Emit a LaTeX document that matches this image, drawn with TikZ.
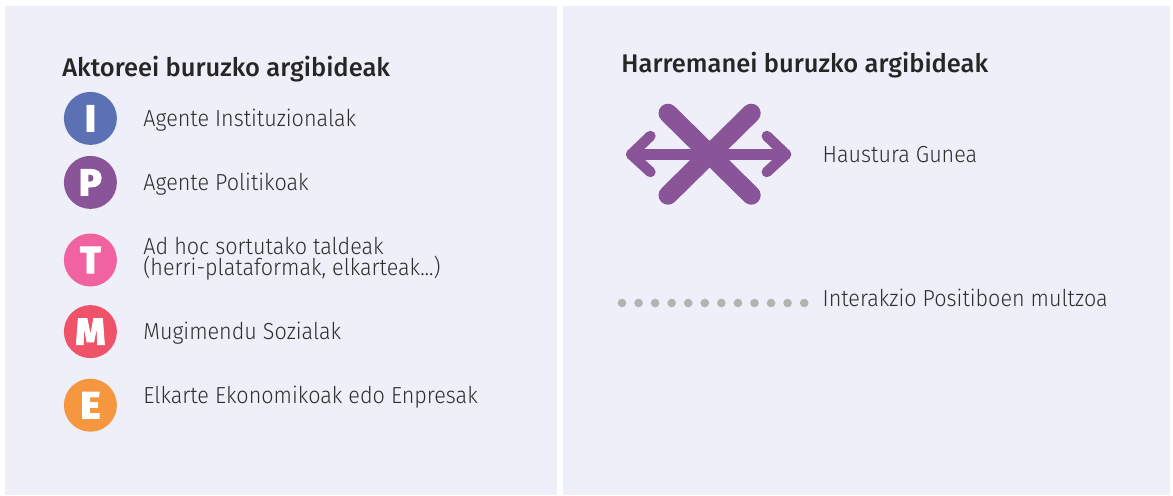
\documentclass[tikz,border=0pt]{standalone}
\usepackage{fontspec}
\setmainfont{Fira Sans Light}[BoldFont={Fira Sans Medium}]
\newfontfamily\bodyfont{Fira Sans Light}[FakeStretch=0.93]
\newfontfamily\heavyfont{Fira Sans ExtraBold}[FakeBold=2]
\usepackage{xcolor}
\definecolor{panelbg}{HTML}{EEEFF9}
\definecolor{inkgray}{HTML}{2E2E2E}
\definecolor{dotgray}{HTML}{B3B3B3}
\definecolor{agentblue}{HTML}{5C71B4}
\definecolor{agentpurple}{HTML}{8A5499}
\definecolor{agentpink}{HTML}{F063A0}
\definecolor{agentred}{HTML}{EF5369}
\definecolor{agentorange}{HTML}{F4973F}
\tikzset{
  actor/.style={circle, minimum size=1.325cm, inner sep=0pt, text=white,
    font=\heavyfont\fontsize{27}{27}\selectfont},
  legendtext/.style={anchor=west, inner sep=0pt, align=left, text=inkgray,
    font=\bodyfont\fontsize{16.5}{13.5}\selectfont},
  headtext/.style={anchor=west, inner sep=0pt, text=black!85,
    font=\bfseries\fontsize{18.15}{22}\selectfont},
  breakbar/.style={agentpurple, line width=19*0.711pt, line cap=round},
  breakarrow/.style={agentpurple, line width=10.5*0.711pt, line cap=round, line join=round}
}
\begin{document}
\begin{tikzpicture}

    \useasboundingbox (0, 0) rectangle (29.325, -12.375);

    % panels
    \fill [panelbg] (0.125, -0.15) rectangle (13.925, -12.375);
    \fill [panelbg] (14.075, -0.15) rectangle (29.25, -12.375);

    % left legend
    \node [headtext] (actorhead) at (1.55, -1.73) {Aktoreei buruzko argibideak};

    \node [actor, fill=agentblue] (actorI) at (2.26, -2.96) {I};
    \node [legendtext] (labelI) at (3.58, -3.0) {Agente Instituzionalak};

    \node [actor, fill=agentpurple] (actorP) at (2.26, -4.56) {P};
    \node [legendtext] (labelP) at (3.58, -4.6) {Agente Politikoak};

    \node [actor, fill=agentpink] (actorT) at (2.26, -6.5) {T};
    \node [legendtext] (labelT) at (3.58, -6.47) {Ad hoc sortutako taldeak \\ (herri-plataformak, elkarteak...)};

    \node [actor, fill=agentred] (actorM) at (2.26, -8.29) {M};
    \node [legendtext] (labelM) at (3.58, -8.33) {Mugimendu Sozialak};

    \node [actor, fill=agentorange] (actorE) at (2.26, -10.13) {E};
    \node [legendtext] (labelE) at (3.58, -9.93) {Elkarte Ekonomikoak edo Enpresak};

    % right legend
    \node [headtext] (linkhead) at (15.53, -1.63) {Harremanei buruzko argibideak};

    \draw [breakarrow] (16.26, -3.4) -- (15.78, -3.86) -- (16.26, -4.3);
    \draw [breakarrow] (19.17, -3.4) -- (19.65, -3.86) -- (19.17, -4.3);
    \draw [breakarrow] (15.78, -3.86) -- (19.65, -3.86);
    \draw [breakbar] (16.7, -2.83) -- (18.78, -4.88);
    \draw [breakbar] (18.78, -2.83) -- (16.7, -4.88);
    \node [legendtext] (labelbreak) at (20.56, -3.87) {Haustura Gunea};

    \foreach \i in {0, ..., 11}
      \fill [dotgray] (15.55 + \i * 0.414, -7.575) circle (0.108);
    \node [legendtext] (labeldots) at (20.56, -7.45) {Interakzio Positiboen multzoa};

\end{tikzpicture}
\end{document}
